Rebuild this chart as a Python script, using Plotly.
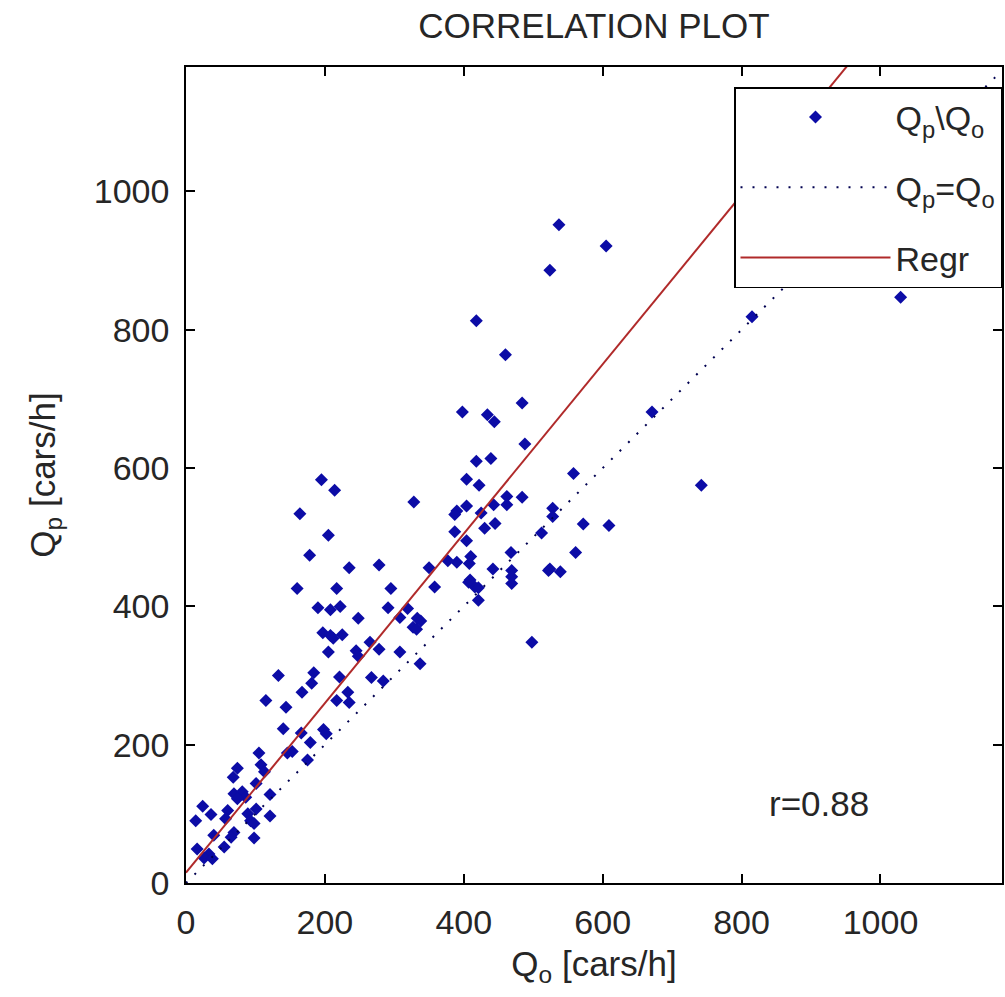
import plotly.graph_objects as go

q_o = [140, 198, 202, 179, 166, 105, 146, 153, 175, 108, 74, 68, 113, 101, 69, 81, 86, 74, 121,
       24, 36, 14, 60, 57, 89, 101, 93, 121, 98, 69, 65, 40, 98, 55, 16, 33, 26, 38,
       195, 214, 328, 164, 205, 178, 235, 278, 350, 160, 217, 295, 190, 208, 222, 291, 248, 319,
       308, 333, 327, 332, 197, 208, 212, 225, 205, 245, 248, 265, 278, 308, 337, 133, 184, 181,
       221, 267, 284, 167, 233, 115, 217, 235, 144,
       442, 469, 469, 469, 522, 408, 390, 377, 407, 416, 421, 421, 358, 498, 338,
       484, 398, 434, 444, 488, 418, 439, 404, 422, 558, 671, 462, 462, 484, 404, 390, 387, 425,
       443, 445, 430, 387, 404, 528, 528, 572, 609, 512, 468, 561, 410, 524, 539, 409,
       537, 605, 524, 418, 460, 1029, 815, 742]
q_p = [223, 222, 216, 203, 217, 188, 188, 190, 178, 171, 166, 153, 161, 144, 129, 132, 124, 122, 128,
       111, 99, 90, 105, 93, 100, 107, 90, 97, 86, 73, 66, 69, 65, 52, 49, 42, 36, 35,
       583, 568, 551, 534, 503, 474, 456, 460, 456, 426, 426, 426, 398, 395, 400, 398, 383, 397,
       384, 383, 370, 367, 362, 358, 354, 359, 334, 336, 328, 348, 338, 334, 317, 300, 304, 289,
       298, 297, 292, 276, 276, 264, 264, 261, 254,
       454, 452, 443, 433, 452, 462, 464, 466, 435, 428, 427, 409, 428, 348, 379,
       694, 681, 677, 667, 635, 610, 614, 584, 575, 592, 681, 559, 547, 558, 545, 538, 533, 535,
       547, 520, 513, 508, 495, 542, 530, 519, 517, 506, 478, 478, 472, 454, 450, 438,
       952, 921, 886, 813, 764, 847, 819, 575]

# Reference line Qp = Qo and regression line (endpoints)
ident_x = [0, 1175]
ident_y = [0, 1175]
regr_x = [0, 1030]
regr_y = [15, 1277]

r_text = "r=0.88"
r_pos = (912, 115)

x_ticks = [0, 200, 400, 600, 800, 1000]
y_ticks = [0, 200, 400, 600, 800, 1000]

FONT = "Liberation Sans, Arial, sans-serif"
TXT = "#262626"

fig = go.Figure()
fig.add_trace(go.Scatter(
    x=q_o, y=q_p, mode="markers", name="Q<sub>p</sub>\\Q<sub>o</sub>", legendgroup="a",
    marker=dict(symbol="diamond", size=10, color="#0c0ca6", line=dict(width=0)),
))
fig.add_trace(go.Scatter(
    x=ident_x, y=ident_y, mode="lines", name="Q<sub>p</sub>=Q<sub>o</sub>", legendgroup="b",
    line=dict(color="#000050", width=2, dash="2px,10px"),
))
fig.add_trace(go.Scatter(
    x=regr_x, y=regr_y, mode="lines", name="Regr", legendgroup="c",
    line=dict(color="#b02a2a", width=2),
))

fig.add_annotation(x=r_pos[0], y=r_pos[1], xref="x", yref="y", text=r_text,
                   showarrow=False, font=dict(family=FONT, size=35, color=TXT))

axis_common = dict(
    showgrid=False, zeroline=False, showline=True, linecolor="black", linewidth=1.5,
    mirror="ticks", ticks="inside", ticklen=9, tickwidth=1.5, tickcolor="black",
    tickfont=dict(family=FONT, size=34, color=TXT), ticklabelstandoff=8,
)

fig.update_layout(
    width=1005, height=997,
    margin=dict(l=186, r=1, t=67, b=114),
    paper_bgcolor="white", plot_bgcolor="white",
    title=dict(text="CORRELATION PLOT", x=0.5, xanchor="center", xref="paper",
               y=1 - 26 / 997, yanchor="middle", yref="container",
               font=dict(family=FONT, size=35, color=TXT)),
    xaxis=dict(range=[0, 1175], tickvals=x_ticks,
               title=dict(text="Q<sub>o</sub> [cars/h]", standoff=12,
                          font=dict(family=FONT, size=35, color=TXT)),
               **axis_common),
    yaxis=dict(range=[0, 1180], tickvals=y_ticks,
               title=dict(text="Q<sub>p</sub> [cars/h]", standoff=28,
                          font=dict(family=FONT, size=35, color=TXT)),
               **axis_common),
    legend=dict(x=1, xanchor="right", y=1 - 20 / 816, yanchor="top",
                bgcolor="white", bordercolor="black", borderwidth=1.5,
                font=dict(family=FONT, size=34, color=TXT), itemwidth=150,
                tracegroupgap=23),
    showlegend=True,
)

fig.write_html("out.html")
